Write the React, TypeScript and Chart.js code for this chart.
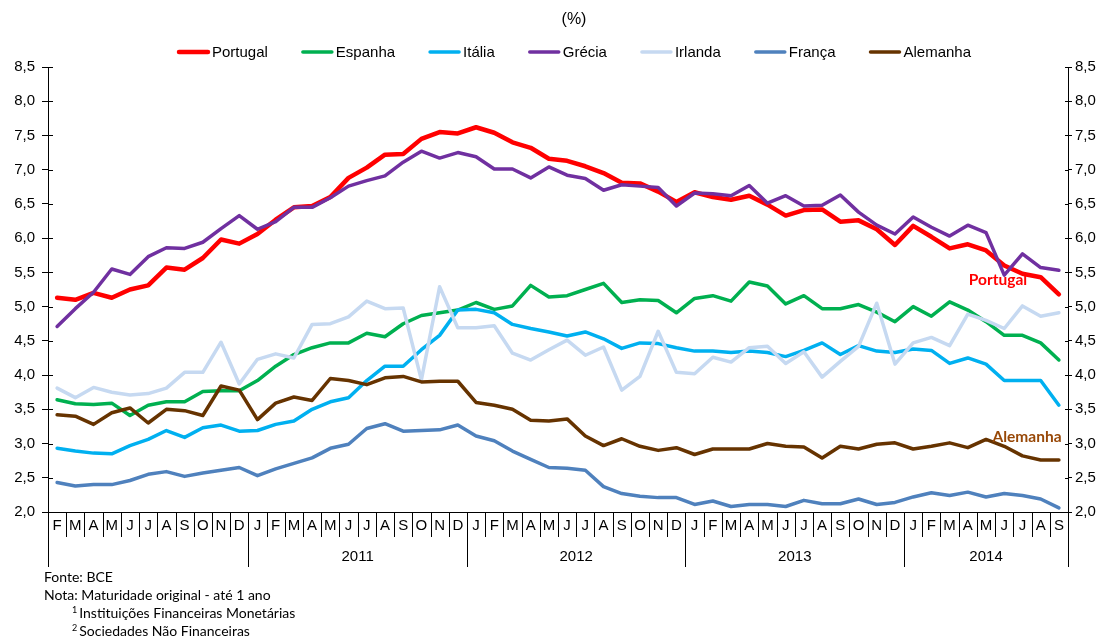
import React, { useEffect, useRef } from "react";
import { Chart, registerables } from "chart.js";

Chart.register(...registerables);

const monthLabels = [
  "F", "M", "A", "M", "J", "J", "A", "S", "O", "N", "D",
  "J", "F", "M", "A", "M", "J", "J", "A", "S", "O", "N", "D",
  "J", "F", "M", "A", "M", "J", "J", "A", "S", "O", "N", "D",
  "J", "F", "M", "A", "M", "J", "J", "A", "S", "O", "N", "D",
  "J", "F", "M", "A", "M", "J", "J", "A", "S",
];

const yearLabels = ["2011", "2012", "2013", "2014"];
const yearBoundaries = [11, 23, 35, 47, 56];

const portugal = [
  5.13, 5.10, 5.20, 5.13, 5.25, 5.31, 5.57, 5.54, 5.71, 5.98, 5.92, 6.06, 6.27, 6.45, 6.47, 6.60,
  6.88, 7.03, 7.22, 7.23, 7.45, 7.55, 7.53, 7.62, 7.54, 7.40, 7.32, 7.16, 7.13, 7.05,
  6.95, 6.81, 6.80, 6.68, 6.53, 6.67, 6.60, 6.56, 6.62, 6.49, 6.33, 6.41, 6.42, 6.24, 6.26, 6.13,
  5.90, 6.18, 6.02, 5.85, 5.91, 5.82, 5.60, 5.48, 5.43, 5.18,
];
const espanha = [
  3.64, 3.58, 3.57, 3.59, 3.41, 3.56, 3.61, 3.61, 3.76, 3.77, 3.77, 3.92, 4.13, 4.30, 4.40, 4.47,
  4.47, 4.61, 4.56, 4.75, 4.87, 4.91, 4.95, 5.06, 4.96, 5.01, 5.31, 5.14, 5.16, 5.25,
  5.34, 5.06, 5.10, 5.09, 4.91, 5.12, 5.16, 5.08, 5.36, 5.30, 5.04, 5.16, 4.97, 4.97, 5.03, 4.92,
  4.78, 5.00, 4.86, 5.07, 4.95, 4.78, 4.58, 4.58, 4.47, 4.22,
];
const italia = [
  2.93, 2.89, 2.86, 2.85, 2.97, 3.06, 3.19, 3.09, 3.23, 3.27, 3.18, 3.19, 3.28, 3.33, 3.50, 3.61,
  3.67, 3.92, 4.13, 4.13, 4.37, 4.58, 4.95, 4.96, 4.91, 4.74, 4.68, 4.63, 4.57, 4.63,
  4.53, 4.39, 4.47, 4.46, 4.40, 4.35, 4.35, 4.33, 4.35, 4.33, 4.27, 4.36, 4.47, 4.30, 4.43, 4.35,
  4.33, 4.38, 4.36, 4.17, 4.25, 4.16, 3.92, 3.92, 3.92, 3.56,
];
const grecia = [
  4.71, 4.97, 5.21, 5.55, 5.47, 5.73, 5.86, 5.85, 5.94, 6.14, 6.33, 6.13, 6.24, 6.45, 6.45, 6.59,
  6.76, 6.84, 6.91, 7.11, 7.27, 7.17, 7.25, 7.19, 7.01, 7.01, 6.88, 7.04, 6.92, 6.87,
  6.70, 6.78, 6.76, 6.74, 6.47, 6.66, 6.65, 6.62, 6.77, 6.51, 6.62, 6.47, 6.48, 6.63, 6.38, 6.19,
  6.06, 6.31, 6.16, 6.03, 6.19, 6.08, 5.46, 5.77, 5.57, 5.53,
];
const irlanda = [
  3.81, 3.67, 3.82, 3.75, 3.71, 3.73, 3.81, 4.04, 4.04, 4.48, 3.87, 4.23, 4.31, 4.25, 4.74, 4.75,
  4.85, 5.08, 4.97, 4.98, 3.93, 5.29, 4.69, 4.69, 4.72, 4.32, 4.22, 4.37, 4.51, 4.29,
  4.41, 3.78, 3.98, 4.64, 4.04, 4.02, 4.26, 4.19, 4.40, 4.42, 4.17, 4.34, 3.97, 4.20, 4.42, 5.05,
  4.16, 4.47, 4.55, 4.43, 4.89, 4.80, 4.68, 5.01, 4.86, 4.91,
];
const franca = [
  2.43, 2.38, 2.40, 2.40, 2.46, 2.55, 2.59, 2.52, 2.57, 2.61, 2.65, 2.53, 2.63, 2.71, 2.79, 2.93,
  2.99, 3.22, 3.29, 3.18, 3.19, 3.20, 3.27, 3.11, 3.04, 2.89, 2.77, 2.65, 2.64, 2.61,
  2.37, 2.27, 2.23, 2.21, 2.21, 2.11, 2.16, 2.08, 2.11, 2.11, 2.08, 2.17, 2.12, 2.12, 2.19, 2.11,
  2.14, 2.22, 2.28, 2.24, 2.29, 2.22, 2.27, 2.24, 2.19, 2.06,
];
const alemanha = [
  3.42, 3.40, 3.28, 3.45, 3.52, 3.30, 3.50, 3.48, 3.41, 3.84, 3.78, 3.35, 3.59, 3.68, 3.63, 3.95,
  3.92, 3.86, 3.96, 3.98, 3.90, 3.91, 3.91, 3.60, 3.56, 3.50, 3.34, 3.33, 3.36, 3.11,
  2.97, 3.07, 2.96, 2.90, 2.94, 2.84, 2.92, 2.92, 2.92, 3.00, 2.96, 2.95, 2.79, 2.96, 2.92, 2.99,
  3.01, 2.92, 2.96, 3.01, 2.94, 3.06, 2.96, 2.82, 2.76, 2.76,
];

const seriesNames = ["Portugal", "Espanha", "Itália", "Grécia", "Irlanda", "França", "Alemanha"];
const seriesValues = [portugal, espanha, italia, grecia, irlanda, franca, alemanha];
const seriesColors = ["#FF0000", "#00B050", "#00B0F0", "#7030A0", "#C6D9F1", "#4F81BD", "#663300"];
const seriesWidths = [4.5, 3.5, 3.5, 3.5, 3.5, 3.5, 3.5];

const footerLines = [
  { text: "Fonte: BCE", indent: 0, sup: "" },
  { text: "Nota: Maturidade original - até 1 ano", indent: 0, sup: "" },
  { text: "Instituições Financeiras Monetárias", indent: 28, sup: "1" },
  { text: "Sociedades Não Financeiras", indent: 28, sup: "2" },
];

const SANS = '"Liberation Sans", Arial, sans-serif';
const AXIS_FONT = "15px " + SANS;
const FOOT_FONT = '14px Lato, "Open Sans", sans-serif';

const decorPlugin = {
  id: "decor",
  afterDraw(chart: any) {
    const ctx = chart.ctx as CanvasRenderingContext2D;
    const area = chart.chartArea;
    const xs = chart.scales.x;
    const yl = chart.scales.y;
    const yr = chart.scales.y2;
    const n = monthLabels.length;
    const half = (xs.getPixelForValue(1) - xs.getPixelForValue(0)) / 2;
    const boundary = (k: number) => xs.getPixelForValue(k) - half;

    ctx.save();
    ctx.strokeStyle = "#000";
    ctx.lineWidth = 1;

    // x baseline
    ctx.beginPath();
    ctx.moveTo(area.left, Math.round(area.bottom) + 0.5);
    ctx.lineTo(area.right, Math.round(area.bottom) + 0.5);
    ctx.stroke();

    // inner tick marks on y axes
    yl.ticks.forEach((t: any) => {
      const y = Math.round(yl.getPixelForValue(t.value)) + 0.5;
      ctx.beginPath();
      ctx.moveTo(area.left, y);
      ctx.lineTo(area.left + 5, y);
      ctx.stroke();
    });
    yr.ticks.forEach((t: any) => {
      const y = Math.round(yr.getPixelForValue(t.value)) + 0.5;
      ctx.beginPath();
      ctx.moveTo(area.right, y);
      ctx.lineTo(area.right - 3, y);
      ctx.stroke();
    });

    // month dividers
    for (let k = 0; k <= n; k++) {
      const x = Math.round(boundary(k)) + 0.5;
      const isYear = k === 0 || yearBoundaries.includes(k);
      ctx.beginPath();
      ctx.moveTo(x, area.bottom);
      ctx.lineTo(x, area.bottom + (isYear ? 55 : 25));
      ctx.stroke();
    }

    // month labels
    ctx.fillStyle = "#000";
    ctx.font = AXIS_FONT;
    ctx.textAlign = "center";
    ctx.textBaseline = "middle";
    monthLabels.forEach((m, i) => {
      ctx.fillText(m, xs.getPixelForValue(i), area.bottom + 14);
    });

    // year labels
    yearLabels.forEach((label, j) => {
      const a = boundary(yearBoundaries[j]);
      const b = boundary(yearBoundaries[j + 1]);
      ctx.fillText(label, (a + b) / 2, area.bottom + 45);
    });

    // title
    ctx.font = "16px " + SANS;
    ctx.fillText("(%)", 574, 20);

    // legend
    ctx.font = AXIS_FONT;
    const lineLen = 33;
    const gapText = 2;
    const gapItem = 33;
    const widths = seriesNames.map((s) => ctx.measureText(s).width);
    const total = widths.reduce((a, w) => a + lineLen + gapText + w, 0) + gapItem * (seriesNames.length - 1);
    let lx = 574 - total / 2;
    const ly = 52;
    ctx.textAlign = "left";
    seriesNames.forEach((s, i) => {
      ctx.strokeStyle = seriesColors[i];
      ctx.lineWidth = i === 0 ? 4.5 : 3.5;
      ctx.lineCap = "round";
      ctx.beginPath();
      ctx.moveTo(lx + 2, ly);
      ctx.lineTo(lx + lineLen - 2, ly);
      ctx.stroke();
      ctx.fillStyle = "#000";
      ctx.fillText(s, lx + lineLen + gapText, ly + 1);
      lx += lineLen + gapText + widths[i] + gapItem;
    });

    // annotations
    ctx.textAlign = "center";
    ctx.font = 'bold 15.5px Lato, "Open Sans", sans-serif';
    ctx.fillStyle = "#FF0000";
    ctx.fillText("Portugal", 998, 280);
    ctx.fillStyle = "#984807";
    ctx.fillText("Alemanha", 1027, 437);

    // footer
    ctx.textAlign = "left";
    ctx.fillStyle = "#000";
    footerLines.forEach((f, i) => {
      const y = 577 + i * 18.3;
      let x = 44 + f.indent;
      if (f.sup) {
        ctx.font = '9px Lato, "Open Sans", sans-serif';
        ctx.fillText(f.sup, x, y - 4);
        x += ctx.measureText(f.sup).width + 2;
      }
      ctx.font = FOOT_FONT;
      ctx.fillText(f.text, x, y);
    });

    ctx.restore();
  },
};

export default function App() {
  const ref = useRef<HTMLCanvasElement | null>(null);

  useEffect(() => {
    document.body.style.margin = "0";
    const canvas = ref.current;
    if (!canvas) return;
    const fmt = (v: any) => Number(v).toFixed(1).replace(".", ",");
    const chart = new Chart(canvas, {
      type: "line",
      data: {
        labels: monthLabels,
        datasets: seriesNames.map((name, i) => ({
          label: name,
          data: seriesValues[i],
          borderColor: seriesColors[i],
          backgroundColor: seriesColors[i],
          borderWidth: seriesWidths[i],
          pointRadius: 0,
          tension: 0,
          fill: false,
          yAxisID: "y",
          order: seriesNames.length - i,
        })),
      },
      options: {
        animation: false,
        responsive: false,
        devicePixelRatio: 1,
        layout: { padding: { top: 67, bottom: 125, left: 0, right: 0 } },
        plugins: {
          legend: { display: false },
          tooltip: { enabled: false },
          title: { display: false },
        },
        elements: {
          line: { borderCapStyle: "round", borderJoinStyle: "round" },
          point: { radius: 0 },
        },
        scales: {
          x: { type: "category", offset: true, display: false },
          y: {
            position: "left",
            min: 2,
            max: 8.5,
            afterFit: (s: any) => {
              s.width = 48;
            },
            ticks: {
              stepSize: 0.5,
              callback: fmt,
              color: "#000",
              font: { family: SANS, size: 15 },
              padding: 7,
            },
            grid: { drawOnChartArea: false, drawTicks: true, tickLength: 6, color: "#000" },
            border: { display: true, color: "#000", width: 1 },
          },
          y2: {
            position: "right",
            min: 2,
            max: 8.5,
            afterFit: (s: any) => {
              s.width = 39;
            },
            ticks: {
              stepSize: 0.5,
              callback: fmt,
              color: "#000",
              font: { family: SANS, size: 15 },
              padding: 3,
            },
            grid: { drawOnChartArea: false, drawTicks: true, tickLength: 4, color: "#000" },
            border: { display: true, color: "#000", width: 1 },
          },
        },
      },
      plugins: [decorPlugin],
    });
    return () => chart.destroy();
  }, []);

  return (
    <div style={{ width: 1107, height: 637, position: "relative" }}>
      <canvas ref={ref} width={1107} height={637} />
    </div>
  );
}
